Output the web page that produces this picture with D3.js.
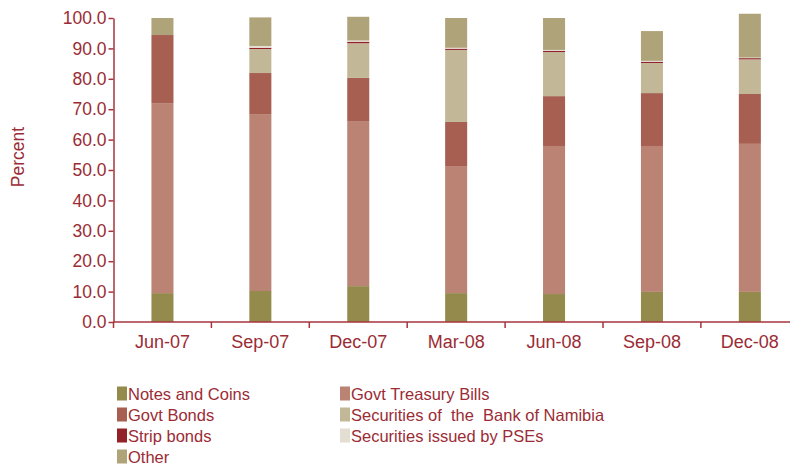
<!DOCTYPE html>
<html>
<head>
<meta charset="utf-8">
<script src="https://cdn.jsdelivr.net/npm/d3@7"></script>
<style>
  html, body { margin: 0; padding: 0; background: #fff; }
  svg { display: block; font-family: "Liberation Sans", Arial, sans-serif; }
</style>
</head>
<body>
<svg id="chart" width="790" height="466"></svg>
<script>
// Quarterly composition of holdings, in percent
const quarters = ["Jun-07", "Sep-07", "Dec-07", "Mar-08", "Jun-08", "Sep-08", "Dec-08"];
const notesAndCoins   = [9.5, 10.2, 11.8, 9.5, 9.2, 9.9, 9.9];
const treasuryBills   = [62.5, 58.2, 54.3, 41.8, 48.7, 48.0, 48.7];
const govtBonds       = [22.4, 13.5, 14.2, 14.5, 16.4, 17.4, 16.4];
const bankOfNamibia   = [0.0, 7.9, 11.4, 23.7, 14.5, 9.9, 11.4];
const stripBonds      = [0.0, 0.4, 0.5, 0.4, 0.4, 0.4, 0.4];
const pseSecurities   = [0.0, 0.6, 0.4, 0.3, 0.3, 0.3, 0.2];
const other           = [5.6, 9.4, 7.8, 9.8, 10.5, 9.8, 14.4];
const yTicks = [0, 10, 20, 30, 40, 50, 60, 70, 80, 90, 100];

const seriesNames = [
  "Notes and Coins", "Govt Treasury Bills", "Govt Bonds",
  "Securities of  the  Bank of Namibia", "Strip bonds",
  "Securities issued by PSEs", "Other"
];
const seriesValues = [notesAndCoins, treasuryBills, govtBonds, bankOfNamibia, stripBonds, pseSecurities, other];
const seriesColors = ["#948a4c", "#ba8374", "#a65f51", "#c2b897", "#922128", "#e3ddd2", "#afa37a"];

const textColor = "#9b2c35";
const axisColor = "#a5343d";

const svg = d3.select("#chart");

const x0 = 113.5, xEnd = 798.8, yBase = 322, yTop = 18;
const x = d3.scaleBand().domain(quarters).range([x0, xEnd]).paddingInner(0.775).paddingOuter(0.3875);
const y = d3.scaleLinear().domain([0, 100]).range([yBase, yTop]);

// Build stack table
const rows = quarters.map((q, i) => {
  const r = { quarter: q };
  seriesNames.forEach((s, j) => { r[s] = seriesValues[j][i]; });
  return r;
});
const stacked = d3.stack().keys(seriesNames)(rows);

const g = svg.append("g");
stacked.forEach((layer, j) => {
  g.append("g")
    .attr("fill", seriesColors[j])
    .selectAll("rect")
    .data(layer)
    .join("rect")
    .attr("x", d => x(d.data.quarter))
    .attr("width", x.bandwidth())
    .attr("y", d => y(d[1]))
    .attr("height", d => Math.max(0, y(d[0]) - y(d[1])));
});

// Y axis
const yAxis = svg.append("g")
  .attr("transform", `translate(${x0},0)`)
  .call(d3.axisLeft(y).tickValues(yTicks).tickFormat(d3.format(".1f")).tickSize(5).tickPadding(2).tickSizeOuter(0));
yAxis.select(".domain").attr("stroke", axisColor).attr("stroke-width", 1.5);
yAxis.selectAll(".tick line").attr("stroke", axisColor).attr("stroke-width", 1.5);
yAxis.selectAll(".tick text").attr("fill", textColor).style("font-size", "17.5px").style("font-family", "Liberation Sans, Arial, sans-serif");

// X axis: line with ticks at category boundaries
const xAxis = svg.append("g");
xAxis.append("line")
  .attr("x1", x0).attr("x2", 790)
  .attr("y1", yBase).attr("y2", yBase)
  .attr("stroke", axisColor).attr("stroke-width", 1.5);
const step = x.step();
const boundaries = d3.range(quarters.length).map(i => x(quarters[i]) - x.paddingOuter() * step);
xAxis.selectAll("line.tick")
  .data(boundaries)
  .join("line")
  .attr("class", "tick")
  .attr("x1", d => d).attr("x2", d => d)
  .attr("y1", yBase).attr("y2", yBase + 6)
  .attr("stroke", axisColor).attr("stroke-width", 1.5);
xAxis.selectAll("text")
  .data(quarters)
  .join("text")
  .attr("x", d => x(d) + x.bandwidth() / 2)
  .attr("y", 348)
  .attr("text-anchor", "middle")
  .attr("fill", textColor)
  .style("font-size", "18px")
  .text(d => d);

// Y axis title
svg.append("text")
  .attr("transform", "translate(24,157) rotate(-90)")
  .attr("text-anchor", "middle")
  .attr("fill", textColor)
  .style("font-size", "17.5px")
  .text("Percent");

// Legend in two columns
const legend = svg.append("g");
const legendItems = legend.selectAll("g")
  .data(seriesNames.map((name, i) => ({ name, color: seriesColors[i], i })))
  .join("g")
  .attr("transform", d => `translate(${d.i % 2 === 0 ? 117 : 340},${386.5 + Math.floor(d.i / 2) * 21})`);
legendItems.append("rect")
  .attr("width", 10).attr("height", 14)
  .attr("fill", d => d.color);
legendItems.append("text")
  .attr("x", 11).attr("y", 13.5)
  .attr("fill", textColor)
  .style("font-size", "16.5px")
  .style("white-space", "pre")
  .attr("xml:space", "preserve")
  .text(d => d.name);
</script>
</body>
</html>
